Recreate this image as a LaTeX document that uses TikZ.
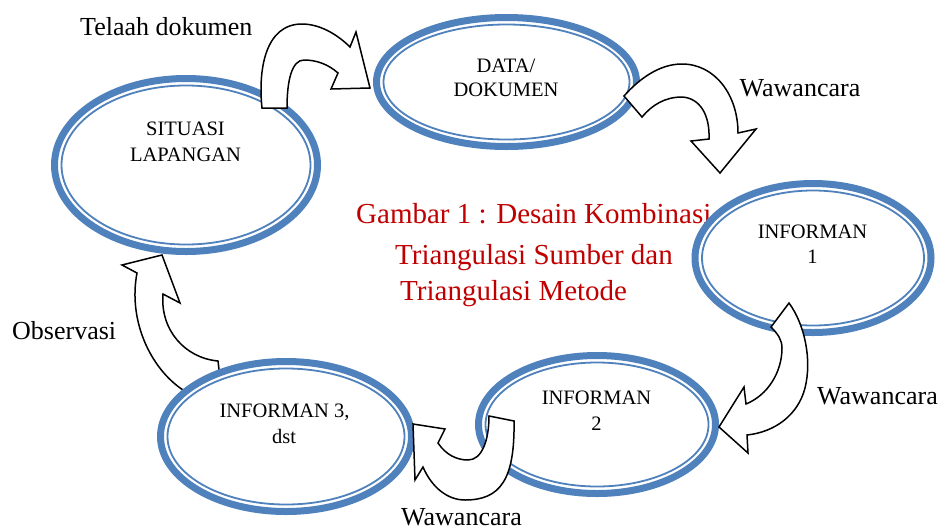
\documentclass[tikz,border=0pt]{standalone}
\usepackage{fontspec}
\setmainfont{Liberation Serif}
\usetikzlibrary{shapes.geometric}
\definecolor{ring}{HTML}{4F81BD}
\definecolor{capred}{HTML}{C00000}
\begin{document}
\begin{tikzpicture}[x=1pt,y=-1pt,
  ringnode/.style={ellipse, draw=ring, line width=7pt, fill=white, inner sep=0pt, outer sep=0pt},
  innerring/.style={draw=ring, line width=1.8pt},
  blockarrow/.style={draw=black, line width=1.5pt, fill=white, line join=miter},
  lbl/.style={font=\fontsize{26}{30}\selectfont, anchor=base west, inner sep=0pt},
  etxt/.style={font=\fontsize{20.5}{24}\selectfont, anchor=base, inner sep=0pt},
  captxt/.style={font=\fontsize{29}{34}\selectfont, text=capred, anchor=base west, inner sep=0pt}]
\useasboundingbox (0,0) rectangle (945,531);
\fill[white] (0,0) rectangle (945,531);

% caption
\node[captxt] (cap1) at (356,223) {Gambar 1 : Desain Kombinasi};
\node[captxt] (cap2) at (395,264) {Triangulasi Sumber dan};
\node[captxt] (cap3) at (400,300) {Triangulasi Metode};

% arrow 5 (Observasi) under ellipses
\draw[blockarrow] (162,255) -- (180,303) -- (163,294)
  .. controls (160,330) and (185,358) .. (218,361) -- (220,378) -- (183,390)
  .. controls (150,368) and (128,320) .. (137,273) -- (122,265) -- cycle;

% ellipses
\node[ringnode, minimum width=263pt, minimum height=173pt] (e1) at (186,165) {};
\draw[innerring] (e1.center) ellipse [x radius=124.5pt, y radius=79.5pt];
\node[ringnode, minimum width=260pt, minimum height=129pt] (e2) at (506.5,82) {};
\draw[innerring] (e2.center) ellipse [x radius=123pt, y radius=57.5pt];
\node[ringnode, minimum width=236pt, minimum height=149pt] (e3) at (813,258) {};
\draw[innerring] (e3.center) ellipse [x radius=111pt, y radius=67.5pt];
\node[ringnode, minimum width=237pt, minimum height=138pt] (e4) at (597,424.5) {};
\draw[innerring] (e4.center) ellipse [x radius=111.5pt, y radius=62pt];
\node[ringnode, minimum width=251pt, minimum height=150pt] (e5) at (286,436.5) {};
\draw[innerring] (e5.center) ellipse [x radius=118.5pt, y radius=68pt];

% ellipse texts
\node[etxt] (t1a) at (185.5,135) {SITUASI};
\node[etxt] (t1b) at (185.5,161) {LAPANGAN};
\node[etxt] (t2a) at (506,72.5) {DATA/};
\node[etxt] (t2b) at (506,96.5) {DOKUMEN};
\node[etxt] (t3a) at (812.5,238.5) {INFORMAN};
\node[etxt] (t3b) at (812.5,263.5) {1};
\node[etxt] (t4a) at (596.5,404) {INFORMAN};
\node[etxt] (t4b) at (596.5,430) {2};
\node[etxt] (t5a) at (284.5,417.5) {INFORMAN 3,};
\node[etxt] (t5b) at (284,443.5) {dst};

% arrow 1 (Telaah dokumen)
\draw[blockarrow] (262,108) .. controls (258,70) and (265,24) .. (302,24)
  .. controls (322,24) and (340,37) .. (350,47) -- (356,32) -- (370,88) -- (331,89) -- (338,73)
  .. controls (328,64) and (316,60) .. (304,60)
  .. controls (292,60) and (287,80) .. (287,108) -- cycle;

% arrow 2 (Wawancara top)
\draw[blockarrow] (624,96) .. controls (640,78) and (660,64) .. (682,64)
  .. controls (715,64) and (738,95) .. (738,133) -- (756,129) -- (720,173) -- (691,141) -- (709,139)
  .. controls (710,115) and (700,98) .. (682,97)
  .. controls (665,97) and (652,105) .. (642,117) -- cycle;

% arrow 3 (Wawancara right)
\draw[blockarrow] (789,303) .. controls (805,325) and (812,360) .. (805,388)
  .. controls (798,415) and (775,432) .. (747,435) -- (748,453) -- (719,427) -- (744,387) -- (746,404)
  .. controls (768,395) and (782,372) .. (782,348)
  .. controls (782,340) and (778,334) .. (771,327) -- cycle;

% arrow 4 (Wawancara bottom)
\draw[blockarrow] (514,421) .. controls (515,480) and (500,500) .. (465,500)
  .. controls (448,500) and (432,488) .. (423,467) -- (415,480) -- (413,424) -- (445,429) -- (438,443)
  .. controls (446,455) and (457,460) .. (468,460)
  .. controls (482,460) and (489,440) .. (489,416) -- cycle;

% labels
\node[lbl] (l1) at (80,35) {Telaah dokumen};
\node[lbl] (l2) at (739.5,96) {Wawancara};
\node[lbl] (l3) at (817,404) {Wawancara};
\node[lbl] (l4) at (401,525) {Wawancara};
\node[lbl] (l5) at (12,339) {Observasi};
\end{tikzpicture}
\end{document}
